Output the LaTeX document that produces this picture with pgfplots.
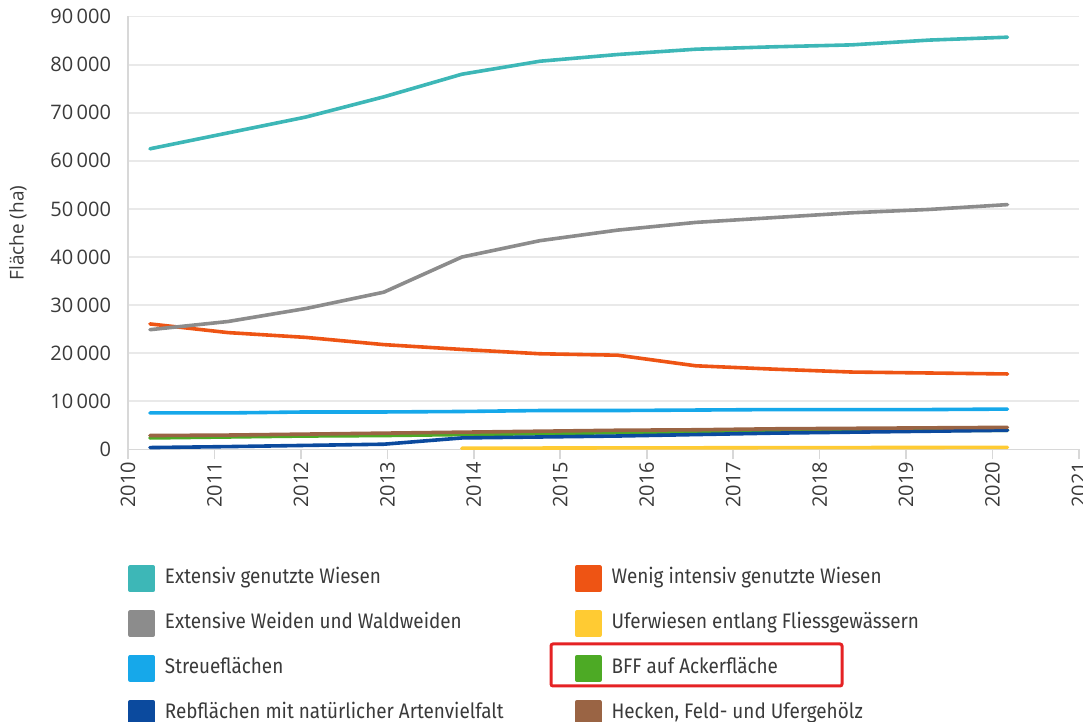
\documentclass[border=0pt]{standalone}
\usepackage{fontspec}
\setmainfont{Open Sans}
\newfontfamily\legfont[FakeStretch=0.9]{Fira Sans}
\usepackage{pgfplots}
\usepackage{pgfplotstable}
\pgfplotsset{compat=1.18}
\definecolor{cext}{HTML}{3DB7B7}
\definecolor{cweid}{HTML}{8C8C8C}
\definecolor{cwenig}{HTML}{EE5414}
\definecolor{cufer}{HTML}{FFCB33}
\definecolor{cstreu}{HTML}{16A8EA}
\definecolor{cbff}{HTML}{4DAA25}
\definecolor{creb}{HTML}{0B4A9E}
\definecolor{check}{HTML}{9A6444}
\definecolor{tickgray}{HTML}{3A3A3A}
\definecolor{gridgray}{HTML}{E9E9E9}
\definecolor{axgray}{HTML}{D8D8D8}
\definecolor{boxred}{HTML}{E52224}
\pgfplotstableread{
x        ext   weid  wenig streu bff  reb  heck ufer
2010.254 62500 24900 26100 7600 2400 400  2900 nan
2011.156 65800 26600 24300 7600 2600 600  3000 nan
2012.057 69100 29300 23300 7800 2800 850  3200 nan
2012.959 73300 32700 21800 7800 2900 1100 3400 nan
2013.861 78000 40000 20800 7900 3100 2400 3600 250
2014.763 80700 43400 19900 8100 3300 2600 3800 300
2015.664 82100 45600 19600 8100 3500 2800 4000 330
2016.566 83200 47200 17400 8200 3700 3100 4100 350
2017.468 83700 48200 16700 8300 3800 3400 4300 380
2018.369 84100 49200 16100 8300 3900 3600 4400 400
2019.271 85100 49900 15900 8300 4000 3800 4500 420
2020.173 85700 50900 15700 8400 4000 4000 4600 450
}\datatable
\begin{document}
\begin{tikzpicture}
\begin{axis}[
  at={(0,0)}, anchor=south west,
  scale only axis, width=475.5pt, height=216.5pt,
  xmin=2010, xmax=2021, ymin=0, ymax=90000,
  xtick={2010,2011,...,2021},
  ytick={0,10000,...,90000},
  axis x line*=bottom, axis y line*=left,
  axis line style={draw=axgray, line width=0.8pt},
  ymajorgrids, grid style={draw=gridgray, line width=0.9pt},
  tick align=outside, major tick length=5pt,
  x tick style={draw=axgray, line width=0.8pt},
  y tick style={draw=none},
  /pgf/number format/assume math mode=true,
  scaled y ticks=false,
  tick label style={font=\fontsize{10}{12}\selectfont, text=tickgray},
  x tick label style={rotate=90, anchor=east, inner sep=1pt, /pgf/number format/1000 sep={}},
  y tick label style={/pgf/number format/1000 sep={\,}, /pgf/number format/fixed},
  ylabel={Fläche (ha)},
  every axis y label/.style={at={(axis description cs:-0.1157,0.5)}, anchor=center, rotate=90, font=\fontsize{9.5}{11}\selectfont, text=tickgray},
  legend columns=2,
  legend cell align=left,
  legend style={draw=none, fill=none, at={(axis description cs:0,-0.2667)}, anchor=north west, inner sep=0pt, row sep=9.15pt, font=\legfont\fontsize{10.5}{12}\selectfont, text=tickgray, nodes={inner sep=0pt, text height=8pt, text depth=3pt}, /tikz/every odd column/.append style={column sep=5pt}, /tikz/every even column/.append style={column sep=0pt}},
  legend image code/.code={\fill[#1] (0pt,-5.75pt) rectangle (11.5pt,5.75pt);},
  every axis plot/.append style={line width=1.8pt, line join=round, line cap=round, no marks},
]
\addplot[color=cext] table[x=x, y=ext] {\datatable};
\addlegendentry{\makebox[205pt][l]{Extensiv genutzte Wiesen}}
\addplot[color=cwenig] table[x=x, y=wenig] {\datatable};
\addlegendentry{Wenig intensiv genutzte Wiesen}
\addplot[color=cweid] table[x=x, y=weid] {\datatable};
\addlegendentry{\makebox[205pt][l]{Extensive Weiden und Waldweiden}}
\addplot[color=cufer] table[x=x, y=ufer] {\datatable};
\addlegendentry{Uferwiesen entlang Fliessgewässern}
\addplot[color=cstreu] table[x=x, y=streu] {\datatable};
\addlegendentry{\makebox[205pt][l]{Streueflächen}}
\addplot[color=cbff] table[x=x, y=bff] {\datatable};
\addlegendentry{BFF auf Ackerfläche}
\addplot[color=creb] table[x=x, y=reb] {\datatable};
\addlegendentry{\makebox[205pt][l]{Rebflächen mit natürlicher Artenvielfalt}}
\addplot[color=check] table[x=x, y=heck] {\datatable};
\addlegendentry{Hecken, Feld- und Ufergehölz}
\end{axis}
\draw[boxred, line width=1.5pt, rounded corners=1pt] (211.5pt,-97.25pt) rectangle (357pt,-118.25pt);
\pgfresetboundingbox
\useasboundingbox (-64pt,-136.25pt) rectangle (477.5pt,224.75pt);
\end{tikzpicture}
\end{document}
